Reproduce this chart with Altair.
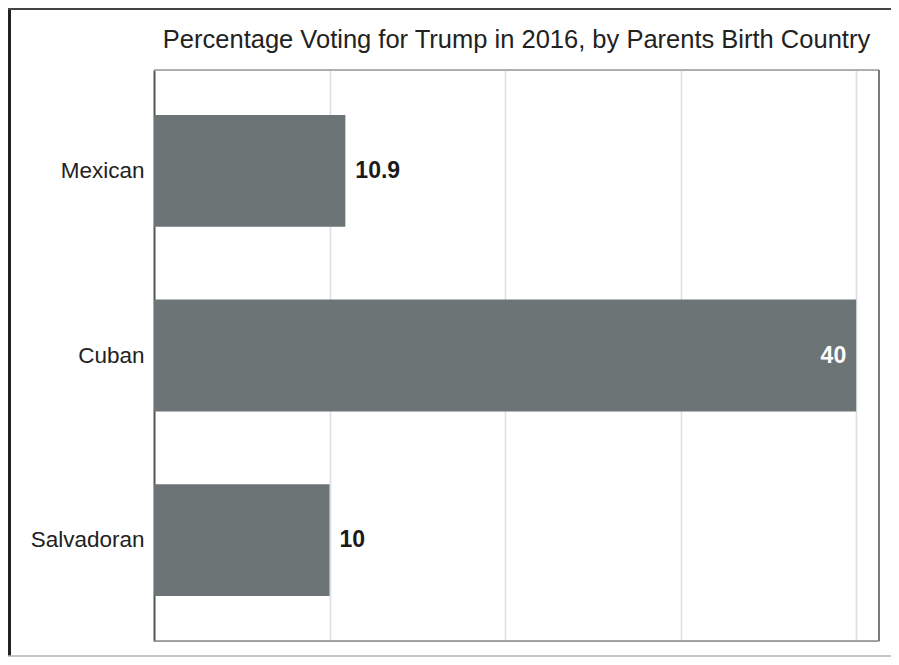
import altair as alt
import pandas as pd

countries = ["Mexican", "Cuban", "Salvadoran"]
values = [10.9, 40, 10]
labels = ["10.9", "40", "10"]
inside = [False, True, False]
title_text = "Percentage Voting for Trump in 2016, by Parents Birth Country"

df = pd.DataFrame({"country": countries, "value": values, "label": labels, "inside": inside})
FONT = "Liberation Sans, Arial, Helvetica, sans-serif"

xscale = alt.Scale(domain=[0, 41.3], nice=False, zero=True)
yscale = alt.Scale(domain=countries, paddingInner=0.395, paddingOuter=0.243)

base = alt.Chart(df)

bars = base.mark_bar(color="#6d7476").encode(
    x=alt.X("value:Q", scale=xscale,
            axis=alt.Axis(title=None, labels=False, ticks=False, domain=False,
                          values=[10, 20, 30, 40], grid=True,
                          gridColor="#dcdfe2", gridWidth=1.6)),
    y=alt.Y("country:N", scale=yscale, sort=countries,
            axis=alt.Axis(title=None, ticks=False, domain=True, domainColor="#555555",
                          domainWidth=2, labelFont=FONT, labelFontSize=22.5,
                          labelColor="#222222", labelPadding=10)),
)

text_out = base.transform_filter("!datum.inside").mark_text(
    align="left", baseline="middle", dx=10, font=FONT, fontSize=23,
    fontWeight="bold", color="#1a1a1a"
).encode(x="value:Q", y=alt.Y("country:N", sort=countries), text="label:N")

text_in = base.transform_filter("datum.inside").mark_text(
    align="right", baseline="middle", dx=-10, font=FONT, fontSize=23,
    fontWeight="bold", color="#ffffff"
).encode(x="value:Q", y=alt.Y("country:N", sort=countries), text="label:N")

fr = alt.Chart(pd.DataFrame({"t": [title_text]}))
title_mark = fr.mark_text(
    align="center", baseline="alphabetic", font=FONT, fontSize=25.5, color="#222222"
).encode(x=alt.value(362.5), y=alt.value(-22), text="t:N")
top_plot = fr.mark_rule(color="#999999", strokeWidth=1.5).encode(
    x=alt.value(0), x2=alt.value(725), y=alt.value(0))
right_plot = fr.mark_rule(color="#6a7072", strokeWidth=1.8).encode(
    x=alt.value(725), y=alt.value(0), y2=alt.value(571))
bottom_plot = fr.mark_rule(color="#888888", strokeWidth=1.5).encode(
    x=alt.value(0), x2=alt.value(725), y=alt.value(571))
left_rule = fr.mark_rule(color="#222222", strokeWidth=3).encode(
    x=alt.value(-144.5), y=alt.value(-61), y2=alt.value(586))
top_rule = fr.mark_rule(color="#444444", strokeWidth=2).encode(
    x=alt.value(-146), x2=alt.value(745), y=alt.value(-61))
bottom_rule = fr.mark_rule(color="#b5b5b5", strokeWidth=1.5).encode(
    x=alt.value(-146), x2=alt.value(745), y=alt.value(586))

chart = alt.layer(bars, text_out, text_in, title_mark, top_plot, right_plot, bottom_plot,
                  left_rule, top_rule, bottom_rule).properties(
    width=725, height=571,
    autosize=alt.AutoSizeParams(type="none"),
    padding={"left": 146, "top": 62, "right": 12, "bottom": 16},
).configure_view(stroke=None).configure(background="white")

chart.save("out.html", embed_options={"renderer": "svg", "actions": False})
